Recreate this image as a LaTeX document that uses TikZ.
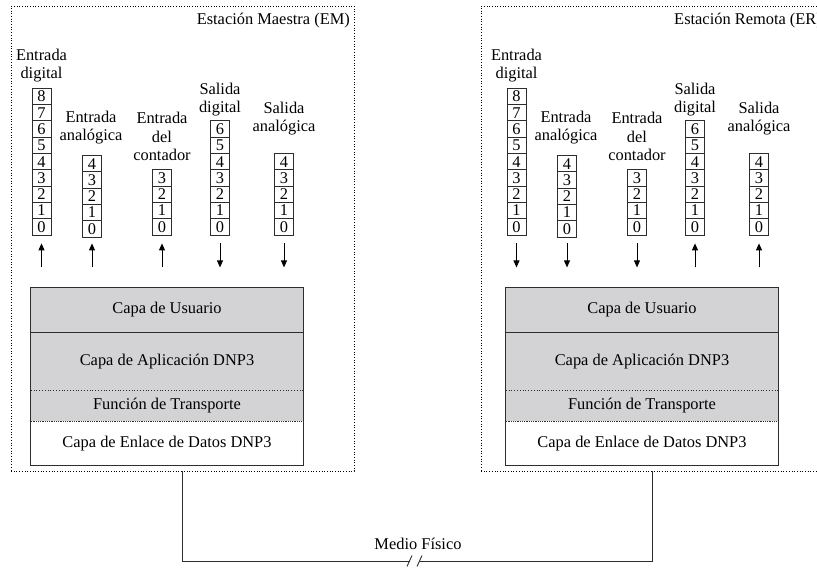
\documentclass[tikz,border=0pt]{standalone}
\usepackage{fontspec}
\setmainfont{Liberation Serif}
\usetikzlibrary{arrows.meta}
\definecolor{layergray}{RGB}{211,211,213}
\definecolor{edge}{RGB}{45,45,45}

\tikzset{
  cell/.style={draw=edge, line width=0.8pt, minimum width=19pt, minimum height=16.3pt, inner sep=0pt},
  lbl/.style={align=center, inner sep=0pt, font=\fontsize{16.4}{18.5}\selectfont},
  layer/.style={minimum width=272pt, inner sep=0pt, anchor=north},
  stationbox/.style={draw=black, dotted, line width=0.7pt, minimum width=343pt, minimum height=465pt, inner sep=0pt},
  flow/.style={-{Triangle[length=7pt,width=6pt]}, line width=0.9pt, draw=black, fill=black},
  wire/.style={line width=0.9pt, draw=edge},
  title/.style={anchor=base east, inner sep=0pt}
}

% one register column: name prefix, x centre, bottom y, highest index
\newcommand\regcol[4]{%
  \foreach \i in {0,...,#4}
    \node[cell] (#1\i) at (#2, {#3-8.15-\i*16.3}) {\i};
}

% register columns, labels, arrows and protocol stack of one station
% #1 name prefix, #2 arrow style of the inputs, #3 arrow style of the outputs
\newcommand\drawstation[3]{%
  \regcol{#1di}{41.5}{235}{8}
  \regcol{#1ai}{92}{237}{4}
  \regcol{#1ci}{162}{235}{3}
  \regcol{#1do}{220}{235}{6}
  \regcol{#1ao}{284}{235}{4}
  \node[lbl] (#1ldi) at (41.5,65.7) {Entrada\\digital};
  \node[lbl] (#1lai) at (91,127.7) {Entrada\\analógica};
  \node[lbl] (#1lci) at (162,136.4) {Entrada\\del\\contador};
  \node[lbl] (#1ldo) at (220,99.6) {Salida\\digital};
  \node[lbl] (#1lao) at (284,118.7) {Salida\\analógica};
  \foreach \c in {di,ci}
    \draw[#2] ([yshift=-8pt]#1\c0.south) -- ([yshift=-32pt]#1\c0.south);
  \draw[#2] ([yshift=-6pt]#1ai0.south) -- ([yshift=-30pt]#1ai0.south);
  \foreach \c in {do,ao}
    \draw[#3] ([yshift=-8pt]#1\c0.south) -- ([yshift=-32pt]#1\c0.south);
  \node[layer, fill=layergray, minimum height=45pt] (#1usr) at (167,287) {Capa de Usuario};
  \node[layer, fill=layergray, minimum height=58pt] (#1app) at (#1usr.south) {Capa de Aplicación DNP3};
  \node[layer, fill=layergray, minimum height=30pt] (#1trn) at (#1app.south) {Función de Transporte};
  \node[layer, fill=white, minimum height=44pt] (#1enl) at (#1trn.south) {Capa de Enlace de Datos DNP3};
  \draw[wire] (#1usr.north west) rectangle (#1enl.south east);
  \draw[wire] (#1usr.south west) -- (#1usr.south east);
  \draw[edge, line width=0.8pt, dotted] (#1app.south west) -- (#1app.south east);
  \draw[edge, line width=0.8pt, densely dotted] (#1trn.south west) -- (#1trn.south east);
}

\begin{document}
\begin{tikzpicture}[x=1pt, y=-1pt, font=\fontsize{16.4}{18.5}\selectfont,
  upflow/.style={flow, <-}, downflow/.style={flow}]
  \useasboundingbox[fill=white] (0,0) rectangle (817,569);

  % station frames and titles
  \node[stationbox] (em) at (182.5,238.5) {};
  \node[stationbox] (er) at (652.5,238.5) {};
  \node[title] (emt) at (350,25) {Estación Maestra (EM)};
  \node[title] (ert) at (822,25) {Estación Remota (ER)};

  % master: inputs flow up, outputs flow down
  \drawstation{m}{flow,{Triangle[length=7pt,width=6pt]}-}{flow}
  % remote: the other way round
  \begin{scope}[xshift=475pt]
    \drawstation{r}{flow}{flow,{Triangle[length=7pt,width=6pt]}-}
  \end{scope}

  % physical medium between the stations
  \coordinate (brkL) at (409.5,561);
  \coordinate (brkR) at (419.5,561);
  \draw[wire] (em.south) |- (brkL);
  \draw[wire] (er.south) |- (brkR);
  \draw[wire] ([shift={(-2.5,5.5)}]brkL) -- ([shift={(2.5,-5.5)}]brkL);
  \draw[wire] ([shift={(-2.5,5.5)}]brkR) -- ([shift={(2.5,-5.5)}]brkR);
  \node (medio) at (418,544) {Medio Físico};
\end{tikzpicture}
\end{document}
